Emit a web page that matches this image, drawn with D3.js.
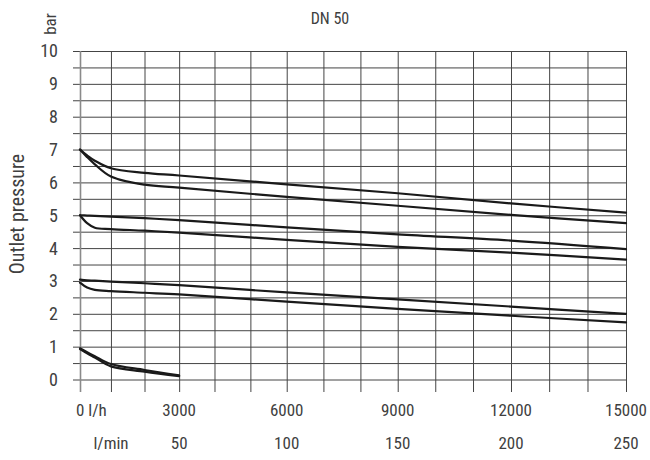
<!DOCTYPE html>
<html>
<head>
<meta charset="utf-8">
<script src="https://cdn.jsdelivr.net/npm/d3@7/dist/d3.min.js"></script>
<style>
  html, body { margin: 0; padding: 0; background: #fff; }
  svg text { font-family: "Liberation Sans Narrow", "Roboto Condensed", "Roboto", sans-serif; fill: #404040; }
</style>
</head>
<body>
<svg id="chart" width="650" height="460"></svg>
<script>
// Flow rate in l/h and outlet pressure in bar for each set pressure
const flowLh = [0, 250, 500, 1000, 2000, 3000, 6000, 9000, 12000, 15000];
const set7Upper = [7.0, 6.82, 6.66, 6.43, 6.29, 6.21, 5.94, 5.67, 5.36, 5.08];
const set7Lower = [7.0, 6.77, 6.55, 6.18, 5.93, 5.84, 5.56, 5.29, 5.01, 4.76];
const set5Upper = [5.0, 4.99, 4.98, 4.96, 4.91, 4.85, 4.63, 4.42, 4.23, 3.97];
const set5Lower = [5.0, 4.76, 4.62, 4.58, 4.53, 4.47, 4.25, 4.04, 3.86, 3.65];
const set3Upper = [3.04, 3.02, 3.01, 2.98, 2.93, 2.87, 2.65, 2.44, 2.22, 2.0];
const set3Lower = [2.95, 2.80, 2.73, 2.69, 2.64, 2.59, 2.37, 2.15, 1.94, 1.74];

const flowLowLh = [0, 250, 500, 1000, 2000, 3000];
const set1Upper = [0.95, 0.83, 0.71, 0.47, 0.29, 0.13];
const set1Lower = [0.93, 0.80, 0.67, 0.40, 0.24, 0.10];

// Axis ticks
const pressureTicks = [0, 1, 2, 3, 4, 5, 6, 7, 8, 9, 10];
const flowLhLabels = [3000, 6000, 9000, 12000, 15000];
const flowLminLabels = [50, 100, 150, 200, 250];

const svg = d3.select("#chart");

const x = d3.scalePow().exponent(1.06).domain([0, 15000]).range([80, 626]);
const y = d3.scaleLinear().domain([0, 10]).range([379.5, 51]);

// Horizontal grid (every 0.5 bar), reaching slightly left of the plot
const yGrid = d3.axisLeft(y)
  .tickValues(d3.range(0, 10.01, 0.5))
  .tickSize(-(626 - 73))
  .tickFormat("");
svg.append("g")
  .attr("transform", "translate(73,0)")
  .call(yGrid)
  .call(g => g.select(".domain").remove())
  .call(g => g.selectAll("line").attr("stroke", "#444").attr("stroke-width", 1));

// Vertical grid (every 1000 l/h), reaching slightly below the plot
const xGrid = d3.axisBottom(x)
  .tickValues(d3.range(0, 15001, 1000))
  .tickSize(-(392 - 51))
  .tickFormat("");
svg.append("g")
  .attr("transform", "translate(0,392)")
  .call(xGrid)
  .call(g => g.select(".domain").remove())
  .call(g => g.selectAll("line")
    .attr("stroke", d => d === 0 ? "#8a8a8a" : "#444")
    .attr("stroke-width", d => d === 0 ? 1.6 : 1));

// Pressure tick labels
svg.append("g").selectAll("text")
  .data(pressureTicks)
  .join("text")
  .attr("x", 58)
  .attr("y", d => y(d))
  .attr("dy", "0.36em")
  .attr("text-anchor", "end")
  .attr("font-size", 18)
  .text(d => d);

// Flow labels (l/h)
svg.append("text")
  .attr("x", 76).attr("y", 410).attr("dy", "0.36em")
  .attr("font-size", 17)
  .text("0 l/h");
svg.append("g").selectAll("text")
  .data(flowLhLabels)
  .join("text")
  .attr("x", d => x(d))
  .attr("y", 410).attr("dy", "0.36em")
  .attr("text-anchor", "middle")
  .attr("font-size", 17)
  .text(d => d);

// Flow labels (l/min)
svg.append("text")
  .attr("x", 111).attr("y", 443).attr("dy", "0.36em")
  .attr("text-anchor", "middle")
  .attr("font-size", 17)
  .text("l/min");
svg.append("g").selectAll("text")
  .data(flowLminLabels)
  .join("text")
  .attr("x", d => x(d * 60))
  .attr("y", 443).attr("dy", "0.36em")
  .attr("text-anchor", "middle")
  .attr("font-size", 17)
  .text(d => d);

// Titles
svg.append("text")
  .attr("x", 330).attr("y", 18).attr("dy", "0.36em")
  .attr("text-anchor", "middle")
  .attr("font-size", 16)
  .text("DN 50");

svg.append("text")
  .attr("transform", "translate(50,24) rotate(-90)")
  .attr("dy", "0.36em")
  .attr("text-anchor", "middle")
  .attr("font-size", 17)
  .text("bar");

svg.append("text")
  .attr("transform", "translate(17,214) rotate(-90)")
  .attr("dy", "0.36em")
  .attr("text-anchor", "middle")
  .attr("font-size", 20)
  .text("Outlet pressure");

// Characteristic curves
const line = d3.line()
  .x(d => x(d[0]))
  .y(d => y(d[1]))
  .curve(d3.curveCatmullRom.alpha(0.5));

const curves = [
  [flowLh, set7Upper], [flowLh, set7Lower],
  [flowLh, set5Upper], [flowLh, set5Lower],
  [flowLh, set3Upper], [flowLh, set3Lower],
  [flowLowLh, set1Upper], [flowLowLh, set1Lower]
];

svg.append("g").selectAll("path")
  .data(curves)
  .join("path")
  .attr("d", ([f, p]) => line(f.map((v, i) => [v, p[i]])))
  .attr("fill", "none")
  .attr("stroke", "#1a1a1a")
  .attr("stroke-width", 2.2)
  .attr("stroke-linejoin", "round")
  .attr("stroke-linecap", "round");
</script>
</body>
</html>
